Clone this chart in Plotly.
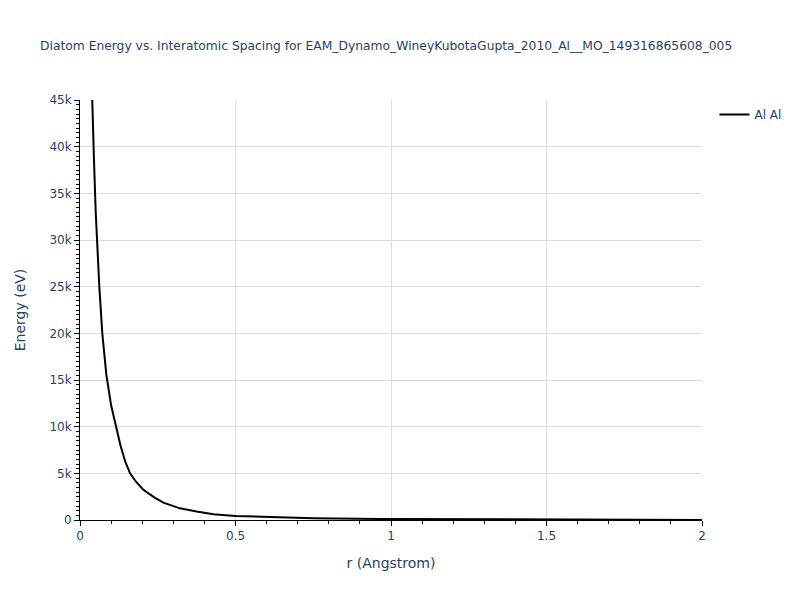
import plotly.graph_objects as go

r_values = [0.035, 0.0386, 0.045, 0.0505, 0.0569, 0.0621, 0.0717, 0.0846, 0.1,
            0.115, 0.13, 0.145, 0.161, 0.18, 0.2035, 0.214, 0.24, 0.268, 0.3215,
            0.375, 0.429, 0.5, 0.547, 0.643, 0.75, 0.965, 1.2, 1.5, 1.8, 2.0]
energy_values = [50000, 45000, 38500, 33000, 28000, 25000, 20000, 15600, 12300,
                 10000, 8000, 6300, 5000, 4100, 3250, 3000, 2400, 1857, 1250,
                 900, 620, 430, 370, 250, 190, 120, 75, 40, 15, 5]
series_name = "Al Al"
title_text = "Diatom Energy vs. Interatomic Spacing for EAM_Dynamo_WineyKubotaGupta_2010_Al__MO_149316865608_005"

FONT = "DejaVu Sans, Verdana, sans-serif"
TXT = "#2a3f5f"

fig = go.Figure()
fig.add_trace(go.Scatter(x=r_values, y=energy_values, mode="lines", name=series_name,
                         line=dict(color="black", width=2)))

axis_common = dict(showline=True, linecolor="black", linewidth=1, ticks="outside",
                   tickcolor="black", ticklen=5, gridcolor="#dcdcdc", zeroline=False,
                   tickfont=dict(size=12, color=TXT, family=FONT))

fig.update_layout(
    template="plotly_white",
    width=800, height=600,
    font=dict(family=FONT, color=TXT),
    title=dict(text=title_text, x=0.04, xanchor="left", xref="container", y=0.945,
               font=dict(size=12.3, color=TXT, family=FONT)),
    margin=dict(l=72, r=106, t=92, b=88),
    showlegend=True,
    legend=dict(x=1.02, y=1, xanchor="left", yanchor="top", font=dict(size=12, color=TXT, family=FONT)),
    plot_bgcolor="white",
)
fig.update_xaxes(range=[0, 2], dtick=0.5, title=dict(text="r (Angstrom)", font=dict(size=14, color=TXT, family=FONT)),
                 minor=dict(dtick=0.1, ticks="outside", ticklen=3, tickcolor="black", showgrid=False),
                 **axis_common)
fig.update_yaxes(range=[0, 45000], dtick=5000,
                 title=dict(text="Energy (eV)", standoff=20, font=dict(size=14, color=TXT, family=FONT)),
                 minor=dict(dtick=500, ticks="outside", ticklen=3, tickcolor="black", showgrid=False),
                 **axis_common)

fig.write_html("out.html")
